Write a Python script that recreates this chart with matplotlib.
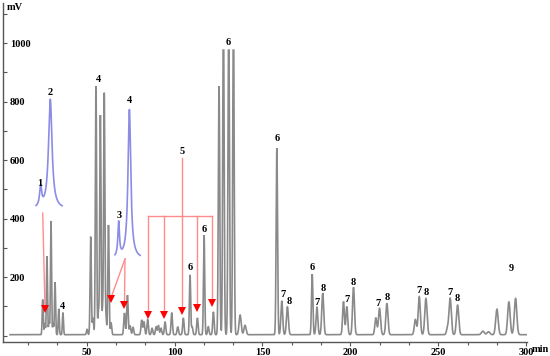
import numpy as np
import matplotlib.pyplot as plt
from matplotlib.markers import MarkerStyle
from matplotlib.ticker import FixedLocator, FixedFormatter
from matplotlib.transforms import Affine2D

plt.rcParams['font.family'] = ['Liberation Serif', 'DejaVu Serif']
plt.rcParams['font.weight'] = 'bold'

# chromatogram peaks: retention time (min), height (mV), sigma (min)
peak_times = [25.0, 26.2, 27.4, 28.6, 29.7, 30.9, 32.0, 34.1, 36.5,
              50.2, 52.3, 53.6, 55.3, 56.7, 57.8, 59.0, 60.0, 61.0, 62.4, 63.9,
              71.5, 73.2, 74.7, 76.4,
              81.3, 82.6, 84.7, 87.2, 89.5, 90.8, 92.3, 94.6, 98.4, 101.8,
              105.0, 108.8, 110.0, 113.0, 116.8, 119.2, 122.1,
              125.3, 127.8, 130.8, 133.5, 137.3, 140.1,
              158.2, 161.0, 164.2, 178.3, 181.0, 184.3,
              196.1, 198.0, 201.8, 214.5, 216.6, 220.8,
              237.0, 239.2, 243.0, 255.3, 256.8, 261.0,
              275.4, 278.6, 283.4, 290.2, 294.0]
peak_heights = [120, 40, 268, 45, 388, 40, 180, 88, 75,
                18, 335, 55, 850, 80, 750, 80, 825, 55, 375, 40,
                74, 135, 30, 25,
                50, 44, 52, 22, 27, 32, 22, 44, 74, 27,
                57, 204, 27, 57, 340, 27, 78,
                850, 1100, 1100, 1100, 67, 32,
                638, 115, 95, 207, 94, 142,
                113, 95, 162, 58, 90, 107,
                52, 130, 124, 22, 124, 101,
                12, 10, 87, 112, 124]
peak_widths = [0.3, 0.3, 0.3, 0.3, 0.3, 0.3, 0.3, 0.3, 0.3,
               0.35, 0.35, 0.35, 0.35, 0.35, 0.35, 0.35, 0.35, 0.35, 0.35, 0.35,
               0.4, 0.4, 0.4, 0.4,
               0.4, 0.4, 0.4, 0.4, 0.4, 0.4, 0.4, 0.4, 0.4, 0.4,
               0.4, 0.35, 0.4, 0.4, 0.35, 0.4, 0.4,
               0.4, 0.4, 0.4, 0.4, 0.6, 0.6,
               0.4, 0.5, 0.55, 0.4, 0.5, 0.55,
               0.5, 0.5, 0.55, 0.55, 0.6, 0.6,
               0.6, 0.6, 0.65, 0.6, 0.65, 0.65,
               0.8, 0.8, 0.7, 0.7, 0.7]
baseline_mv = 3
detector_max = 976

# blue expanded views (Lorentzian peaks on an offset baseline)
inset1_times = [23.8, 29.3]
inset1_heights = [68, 375]
inset1_hwhm = [0.7, 1.2]
inset1_base = 432
inset1_span = (21.2, 36.0)

inset2_times = [68.2, 74.3]
inset2_heights = [118, 510]
inset2_hwhm = [0.55, 0.95]
inset2_base = 262
inset2_span = (66.1, 80.4)

# peak numbers
label_texts = ['1', '2', '3', '4', '4', '4', '5', '6', '6', '6', '6',
               '7', '8', '6', '7', '8', '7', '8', '7', '8', '7', '8', '7', '8', '9']
label_times = [23.5, 29.4, 68.4, 74.4, 56.7, 36.4, 104.3, 130.6, 158.2, 108.8, 116.8,
               161.6, 165.3, 178.1, 181.1, 184.5, 198.0, 201.8, 216.0, 220.8,
               238.8, 243.1, 256.8, 261.0, 291.4]
label_values = [521, 832, 412, 802, 877, 101, 631, 1001, 674, 232, 361,
                141, 116, 232, 112, 161, 125, 182, 110, 131,
                153, 146, 146, 127, 230]

# red pointers: start (t, mV) -> arrowhead (t, mV)
arrow_starts = [(25.0, 419), (71.8, 262), (71.8, 262),
                (85.1, 409), (94.2, 409), (104.4, 607), (112.6, 409), (121.5, 409)]
arrow_ends = [(26.3, 91), (63.6, 125), (71.5, 104),
              (85.1, 70), (94.2, 70), (104.4, 85), (112.6, 95), (121.5, 113)]
bracket_span = (85.1, 121.5)
bracket_level = 409


def gauss_sum(t, centers, heights, widths):
    y = np.zeros_like(t)
    for c, h, w in zip(centers, heights, widths):
        y += h * np.exp(-0.5 * ((t - c) / w) ** 2)
    return y


def lorentz_sum(t, centers, heights, hwhm):
    y = np.zeros_like(t)
    for c, h, g in zip(centers, heights, hwhm):
        y += h / (1 + ((t - c) / g) ** 2)
    return y


fig = plt.figure(figsize=(5.5, 3.56), dpi=100)
ax = fig.add_axes([3 / 550, 14 / 356, 524 / 550, 339 / 356])

t = np.linspace(6.4, 300.2, 12000)
trace = baseline_mv + gauss_sum(t, peak_times, peak_heights, peak_widths)
trace = np.minimum(trace, detector_max)
ax.plot(t, trace, color='#8a8a8a', lw=1.2, solid_joinstyle='miter')

for times, heights, hwhm, base, span in [
        (inset1_times, inset1_heights, inset1_hwhm, inset1_base, inset1_span),
        (inset2_times, inset2_heights, inset2_hwhm, inset2_base, inset2_span)]:
    ti = np.linspace(span[0], span[1], 600)
    ax.plot(ti, base + lorentz_sum(ti, times, heights, hwhm), color='#8c8ce6', lw=1.2)

red_line = '#ff8c8c'
ax.plot(bracket_span, [bracket_level] * 2, color=red_line, lw=1)
for (t0, v0), (t1, v1) in zip(arrow_starts, arrow_ends):
    ax.plot([t0, t1], [v0, v1], color=red_line, lw=1)
    p0 = ax.transData.transform((t0, v0))
    p1 = ax.transData.transform((t1, v1))
    ang = np.degrees(np.arctan2(p1[1] - p0[1], p1[0] - p0[0]))
    m = MarkerStyle('v', transform=Affine2D().rotate_deg(ang + 90))
    ax.plot([t1], [v1], marker=m, color='#ff0000', ms=5.8, mew=0)

for s, x, y in zip(label_texts, label_times, label_values):
    ax.text(x, y, s, ha='center', va='center', fontsize=7.5, fontweight='bold')

ax.set_xlim(2.4, 300.5)
ax.set_ylim(-22, 1137)

for side in ['top', 'right']:
    ax.spines[side].set_visible(False)
for side in ['left', 'bottom']:
    ax.spines[side].set_color('#555555')
    ax.spines[side].set_linewidth(1)

ax.xaxis.set_major_locator(FixedLocator([50, 100, 150, 200, 250, 300]))
ax.xaxis.set_minor_locator(FixedLocator([50 / 3 * k for k in range(1, 18)]))
ax.tick_params(axis='x', which='both', direction='out', length=3, width=0.8,
               color='#555555', pad=1, labelsize=7.5)
ax.tick_params(axis='x', which='minor', length=2)

yt = list(range(0, 1200, 100))
ax.yaxis.set_major_locator(FixedLocator(yt))
ax.yaxis.set_major_formatter(FixedFormatter(
    [str(v) if v in (200, 400, 600, 800, 1000) else '' for v in yt]))
ax.tick_params(axis='y', direction='in', length=3, width=0.8, color='#555555',
               pad=-5, labelsize=7.5)
for lab in ax.get_yticklabels():
    lab.set_horizontalalignment('left')
for lab in ax.get_xticklabels() + ax.get_yticklabels():
    lab.set_fontweight('bold')

fig.text(7 / 550, 1 - 7 / 356, 'mV', ha='left', va='center', fontsize=7.5, fontweight='bold')
fig.text(532 / 550, 1 - 350 / 356, 'min', ha='left', va='center', fontsize=7.5, fontweight='bold')

fig.savefig('out.png', dpi=100)
